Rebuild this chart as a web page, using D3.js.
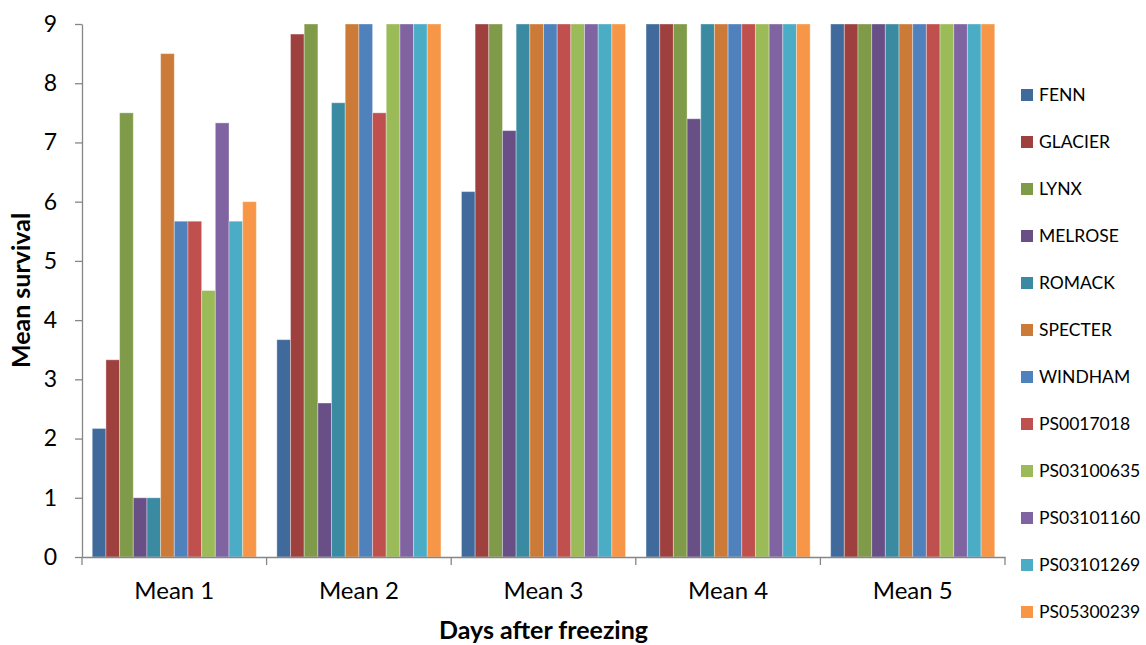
<!DOCTYPE html>
<html>
<head>
<meta charset="utf-8">
<script src="https://cdn.jsdelivr.net/npm/d3@7"></script>
<style>
  body { margin: 0; background: #fff; }
  svg { font-family: Lato, 'Open Sans', sans-serif; }
</style>
</head>
<body>
<svg id="chart"></svg>
<script>
// categories on the x axis
const days = ['Mean 1', 'Mean 2', 'Mean 3', 'Mean 4', 'Mean 5'];
// one entry per variety (legend order)
const varieties = ['FENN', 'GLACIER', 'LYNX', 'MELROSE', 'ROMACK', 'SPECTER', 'WINDHAM',
  'PS0017018', 'PS03100635', 'PS03101160', 'PS03101269', 'PS05300239'];
// values per variety, Mean 1..Mean 5
const FENN = [2.17, 3.67, 6.17, 9, 9];
const GLACIER = [3.33, 8.83, 9, 9, 9];
const LYNX = [7.5, 9, 9, 9, 9];
const MELROSE = [1, 2.6, 7.2, 7.4, 9];
const ROMACK = [1, 7.67, 9, 9, 9];
const SPECTER = [8.5, 9, 9, 9, 9];
const WINDHAM = [5.67, 9, 9, 9, 9];
const PS0017018 = [5.67, 7.5, 9, 9, 9];
const PS03100635 = [4.5, 9, 9, 9, 9];
const PS03101160 = [7.33, 9, 9, 9, 9];
const PS03101269 = [5.67, 9, 9, 9, 9];
const PS05300239 = [6, 9, 9, 9, 9];
const yTicks = [0, 1, 2, 3, 4, 5, 6, 7, 8, 9];

const values = [FENN, GLACIER, LYNX, MELROSE, ROMACK, SPECTER, WINDHAM,
  PS0017018, PS03100635, PS03101160, PS03101269, PS05300239];
const colors = ['#3f6a9b', '#9e403e', '#7f9a48', '#684f86', '#3a8aa2', '#cc7a37',
  '#4f81bd', '#c0504d', '#9bbb59', '#8064a2', '#4bacc6', '#f79646'];

const width = 1146, height = 645;
const margin = { top: 24, left: 82, right: 141, bottom: 88 };
const svg = d3.select('#chart').attr('width', width).attr('height', height);

const x0 = d3.scaleBand().domain(days).range([margin.left, width - margin.right]);
const x1 = d3.scaleBand().domain(varieties).range([0, x0.bandwidth()])
  .paddingInner(0).paddingOuter(0.75);
const y = d3.scaleLinear().domain([0, 9]).range([height - margin.bottom, margin.top]);

const axisColor = '#868686';

// bars
const groups = svg.append('g').selectAll('g')
  .data(days)
  .join('g')
  .attr('transform', d => `translate(${x0(d)},0)`);

groups.selectAll('rect')
  .data((d, i) => varieties.map((v, j) => ({ v, j, value: values[j][i] })))
  .join('rect')
  .attr('x', d => x1(d.v))
  .attr('y', d => y(d.value))
  .attr('width', x1.bandwidth())
  .attr('height', d => y(0) - y(d.value))
  .attr('fill', d => colors[d.j])
  .attr('stroke', 'rgba(255,255,255,0.35)')
  .attr('stroke-width', 1);

// y axis
const yAxis = svg.append('g')
  .attr('transform', `translate(${margin.left},0)`)
  .call(d3.axisLeft(y).tickValues(yTicks).tickSizeInner(7).tickSizeOuter(0).tickPadding(18));
yAxis.select('.domain').attr('stroke', axisColor).attr('stroke-width', 1.3);
yAxis.selectAll('.tick line').attr('stroke', axisColor).attr('stroke-width', 1.3);
yAxis.selectAll('.tick text').attr('font-size', 23).attr('fill', '#000')
  .attr('font-family', 'Lato, sans-serif');

// x axis
const xAxis = svg.append('g')
  .attr('transform', `translate(0,${y(0)})`)
  .call(d3.axisBottom(x0).tickSize(0).tickPadding(25));
xAxis.select('.domain').attr('stroke', axisColor).attr('stroke-width', 1.3);
xAxis.selectAll('.tick text').attr('font-size', 24).attr('fill', '#000')
  .attr('font-family', 'Lato, sans-serif');
// category boundary ticks
const bounds = days.map(d => x0(d)).concat([x0(days[days.length - 1]) + x0.bandwidth()]);
xAxis.selectAll('line.bound')
  .data(bounds)
  .join('line')
  .attr('class', 'bound')
  .attr('x1', d => d).attr('x2', d => d)
  .attr('y1', 0).attr('y2', 8)
  .attr('stroke', axisColor).attr('stroke-width', 1.3);

// axis titles
svg.append('text')
  .attr('transform', `translate(30,${(y(0) + y(9)) / 2}) rotate(-90)`)
  .attr('text-anchor', 'middle')
  .attr('font-weight', 'bold')
  .attr('font-size', 25)
  .text('Mean survival');

svg.append('text')
  .attr('x', (margin.left + width - margin.right) / 2)
  .attr('y', 639)
  .attr('text-anchor', 'middle')
  .attr('font-weight', 'bold')
  .attr('font-size', 25)
  .text('Days after freezing');

// legend
const legend = svg.append('g')
  .selectAll('g')
  .data(varieties)
  .join('g')
  .attr('transform', (d, i) => `translate(1021,${95 + i * 47})`);

legend.append('rect')
  .attr('x', 0).attr('y', -6)
  .attr('width', 12).attr('height', 12)
  .attr('fill', (d, i) => colors[i]);

legend.append('text')
  .attr('x', 18)
  .attr('y', 0)
  .attr('dy', '0.36em')
  .attr('font-size', 17.5)
  .text(d => d);
</script>
</body>
</html>
